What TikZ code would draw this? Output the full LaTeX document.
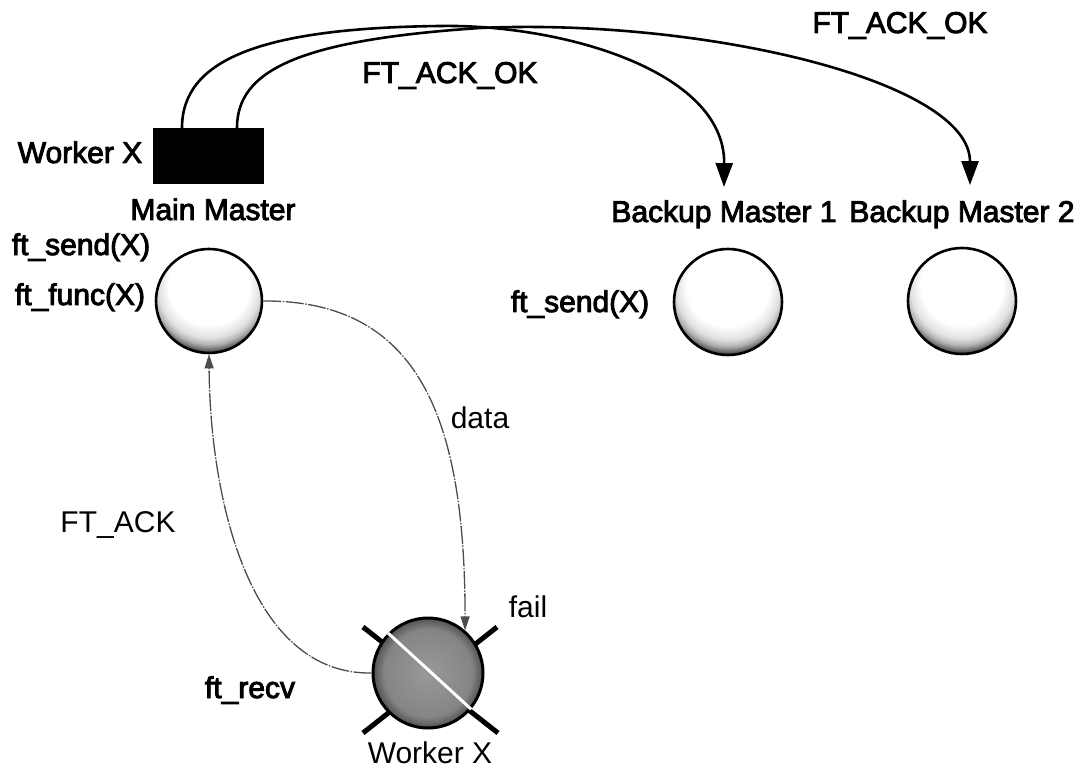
\documentclass[tikz,border=0pt]{standalone}
\usepackage{fontspec}
\setmainfont{Liberation Sans}
\newfontfamily\heavyfont[FakeBold=3]{Liberation Sans}
\usetikzlibrary{arrows.meta,shapes.geometric}
\pgfdeclareradialshading{speck}{\pgfpoint{0bp}{12bp}}{color(0bp)=(white); color(19bp)=(white); color(24bp)=(black!12); color(26.5bp)=(black!30); color(30bp)=(black!80); color(50bp)=(black!80)}
\pgfdeclareradialshading{wshade}{\pgfpoint{0bp}{0bp}}{color(0bp)=(black!40); color(20bp)=(black!48); color(25bp)=(black!68); color(50bp)=(black!68)}
\tikzset{
  lbl/.style={inner sep=0pt, anchor=base, font=\fontsize{30}{36}\selectfont},
  hlbl/.style={lbl, font=\fontsize{30}{36}\heavyfont},
  ball/.style={ellipse, draw, line width=2.6pt, inner sep=0pt, shading=speck},
  conn/.style={line width=2.6pt, -{Triangle[length=24pt,width=17pt]}},
  thin/.style={line width=1.3pt, black!70, dash pattern=on 18pt off 1.5pt on 1.5pt off 1.5pt, -{Triangle[length=14pt,width=9pt]}},
  crossline/.style={line width=5pt}
}
\begin{document}
\begin{tikzpicture}[x=1pt,y=-1pt]
\useasboundingbox (0,0) rectangle (1090,770);
% top box
\node[draw, fill=black, minimum width=110pt, minimum height=55pt, inner sep=0pt] (mmbox) at (208,155.5) {};
\node[hlbl] (wxtop) at (80,163) {Worker X};
\node[hlbl] (mmlbl) at (213,220) {Main Master};
\node[hlbl] (sendl) at (81,255) {ft\_send(X)};
\node[hlbl] (funcl) at (80,305) {ft\_func(X)};
% balls
\node[ball, minimum width=106pt, minimum height=104pt] (mm) at (209,301) {};
\node[ball, minimum width=108pt, minimum height=106pt] (bm1) at (728,302) {};
\node[ball, minimum width=108pt, minimum height=106pt] (bm2) at (962,301) {};
\node[hlbl] (bm1lbl) at (724,222) {Backup Master 1};
\node[hlbl] (bm2lbl) at (962,222) {Backup Master 2};
\node[hlbl] (sendr) at (580,312) {ft\_send(X)};
\node[hlbl] (ackok1) at (450,83) {FT\_ACK\_OK};
\node[hlbl] (ackok2) at (900,33) {FT\_ACK\_OK};
% worker
\coordinate (c1) at (363,627);
\coordinate (c2) at (498,733);
\coordinate (c3) at (497,627);
\coordinate (c4) at (363,733);
\draw[crossline] (c1) -- (c2);
\draw[crossline] (c3) -- (c4);
\node[circle, draw, line width=3pt, minimum size=110pt, inner sep=0pt, shading=wshade] (wk) at (428,673) {};
\draw[white, line width=3pt] (wk.135) -- (wk.-40);
\node[lbl] (wklbl) at (430,763) {Worker X};
\node[lbl] (faill) at (528,617) {fail};
\node[hlbl] (recvl) at (250,698) {ft\_recv};
\node[lbl] (datal) at (480,428) {data};
\node[lbl] (ackl) at (118,532) {FT\_ACK};
% connectors
\draw[conn] ([xshift=-26pt]mmbox.north) .. controls (182,60) and (260,28) .. (440,26)
  .. controls (560,24) and (725,70) .. ([yshift=13pt]bm1lbl.north);
\draw[conn] ([xshift=29pt]mmbox.north) .. controls (237,70) and (300,40) .. (480,28)
  .. controls (700,18) and (970,80) .. ([xshift=8pt,yshift=15pt]bm2lbl.north);
\draw[thin] (mm.east) .. controls (420,300) and (465,420) .. (wk.49);
\draw[thin] (wk.west) .. controls (250,675) and (210,500) .. (mm.south);
\end{tikzpicture}
\end{document}
